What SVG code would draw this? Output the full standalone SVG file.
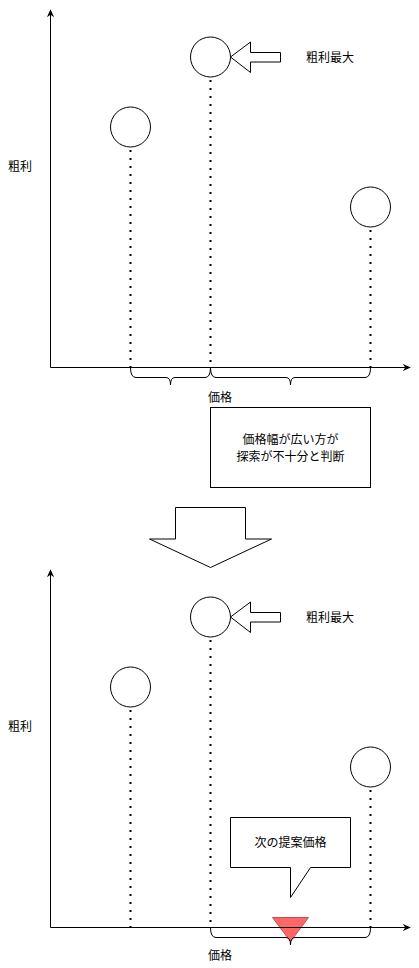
<svg xmlns="http://www.w3.org/2000/svg" width="419" height="968" viewBox="0 0 419 968">
<style>
.ln{fill:none;stroke:#000;stroke-width:1}
.ax{fill:none;stroke:#000;stroke-width:1;marker-end:url(#ah)}
.dot{fill:none;stroke:#000;stroke-width:2;stroke-dasharray:2 6}
.sh{fill:#fff;stroke:#000;stroke-width:1}
.br{fill:none;stroke:#000;stroke-width:1}
.t{font-family:"Liberation Sans","Noto Sans CJK JP",sans-serif;font-size:12px;fill:#000}
.c{text-anchor:middle}
</style>
<defs>
<marker id="ah" viewBox="0 0 10 10" refX="9" refY="5" markerWidth="8" markerHeight="8" markerUnits="userSpaceOnUse" orient="auto">
<path d="M0,0.5 L10,5 L0,9.5 L3,5 Z" fill="#000"/>
</marker>
</defs>

<g id="connectors">
<line class="ax" x1="50.5" y1="367.5" x2="50.5" y2="10"/>
<line class="ax" x1="50.5" y1="367.5" x2="410" y2="367.5"/>
<line class="dot" x1="130.5" y1="150" x2="130.5" y2="367"/>
<line class="dot" x1="210.5" y1="80" x2="210.5" y2="367"/>
<line class="dot" x1="370.5" y1="230" x2="370.5" y2="367"/>
<line class="ax" x1="50.5" y1="927.5" x2="50.5" y2="570"/>
<line class="dot" x1="130.5" y1="710" x2="130.5" y2="927"/>
<line class="dot" x1="210.5" y1="640" x2="210.5" y2="927"/>
<line class="dot" x1="370.5" y1="790" x2="370.5" y2="927"/>
</g>

<g id="braces-top">
<path class="br" d="M130.5,367.5 Q130.5,377.5 136,377.5 L166,377.5 Q170.5,377.5 170.5,385 Q170.5,377.5 175,377.5 L205,377.5 Q210.5,377.5 210.5,367.5"/>
<path class="br" d="M210.5,367.5 Q210.5,377.5 216,377.5 L286,377.5 Q290.5,377.5 290.5,385 Q290.5,377.5 295,377.5 L365,377.5 Q370.5,377.5 370.5,367.5"/>
</g>

<g id="top-c1"><circle class="sh" cx="130.5" cy="127" r="20"/></g>
<g id="top-c2"><circle class="sh" cx="210.5" cy="57" r="20"/></g>
<g id="top-c3"><circle class="sh" cx="370.5" cy="207" r="20"/></g>
<g id="top-arrow"><path class="sh" d="M230.5,57 L250.5,42 L250.5,52.5 L280.5,52.5 L280.5,62 L250.5,62 L250.5,72.5 Z"/></g>
<g id="top-max-label"><text class="t" x="306" y="62">粗利最大</text></g>
<g id="top-ylabel"><text class="t" x="8" y="171">粗利</text></g>
<g id="top-xlabel"><text class="t" x="208" y="402">価格</text></g>
<g id="note">
<rect class="sh" x="210.5" y="407.5" width="160" height="80"/>
<text class="t c" x="290.5" y="444">価格幅が広い方が</text>
<text class="t c" x="290.5" y="460.5">探索が不十分と判断</text>
</g>
<g id="down-arrow"><path class="sh" d="M175.5,507.5 L245.5,507.5 L245.5,539 L271.5,539 L210.5,567.5 L149.5,539 L175.5,539 Z"/></g>

<g id="bot-c1"><circle class="sh" cx="130.5" cy="687" r="20"/></g>
<g id="bot-c2"><circle class="sh" cx="210.5" cy="617" r="20"/></g>
<g id="bot-c3"><circle class="sh" cx="370.5" cy="767" r="20"/></g>
<g id="bot-arrow"><path class="sh" d="M230.5,617 L250.5,602 L250.5,612.5 L280.5,612.5 L280.5,622 L250.5,622 L250.5,632.5 Z"/></g>
<g id="bot-max-label"><text class="t" x="306" y="622">粗利最大</text></g>
<g id="bot-ylabel"><text class="t" x="8" y="731">粗利</text></g>
<g id="callout">
<path class="sh" d="M230.5,817.5 L350.5,817.5 L350.5,867.5 L310.5,867.5 L290.5,897.5 L290.5,867.5 L230.5,867.5 Z"/>
<text class="t c" x="290.5" y="846.5">次の提案価格</text>
</g>
<g id="marker-tri"><path d="M272.5,917.5 L308.5,917.5 L290.5,941.5 Z" fill="#ff6666" stroke="#b85450" stroke-width="1"/></g>
<g id="bot-axis-x"><line class="ax" x1="50.5" y1="927.5" x2="410" y2="927.5"/></g>
<g id="brace-bot">
<path class="br" d="M210.5,927.5 Q210.5,937.5 216,937.5 L286,937.5 Q290.5,937.5 290.5,945 Q290.5,937.5 295,937.5 L365,937.5 Q370.5,937.5 370.5,927.5"/>
</g>
<g id="bot-xlabel"><text class="t" x="208" y="960">価格</text></g>
</svg>
